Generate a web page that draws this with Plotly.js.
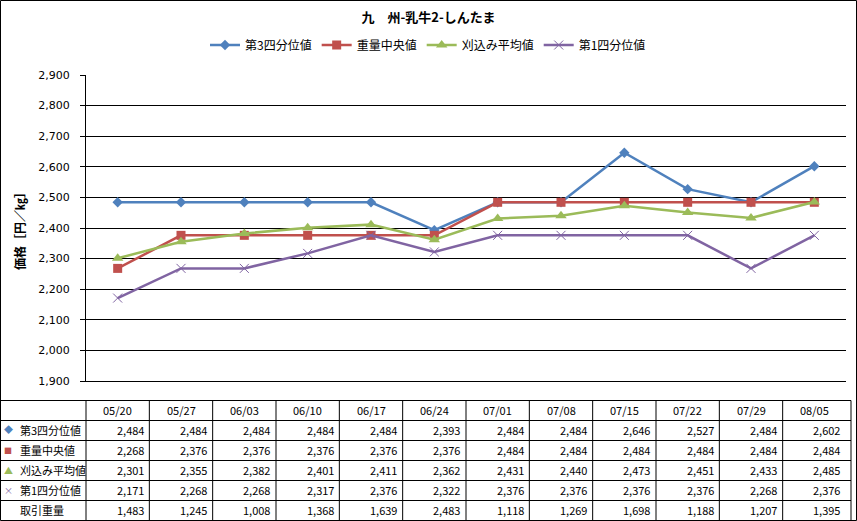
<!DOCTYPE html>
<html><head><meta charset="utf-8">
<script src="https://cdn.plot.ly/plotly-3.0.1.min.js"></script>
<style>html,body{margin:0;padding:0;background:#fff}#chart{width:857px;height:521px}</style>
</head><body><div id="chart"></div>
<script>
// ---- data ----
const categories = ['05/20','05/27','06/03','06/10','06/17','06/24','07/01','07/08','07/15','07/22','07/29','08/05'];
const seriesNames = ['第3四分位値','重量中央値','刈込み平均値','第1四分位値'];
const q3      = [2484,2484,2484,2484,2484,2393,2484,2484,2646,2527,2484,2602];
const median  = [2268,2376,2376,2376,2376,2376,2484,2484,2484,2484,2484,2484];
const trimmed = [2301,2355,2382,2401,2411,2362,2431,2440,2473,2451,2433,2485];
const q1      = [2171,2268,2268,2317,2376,2322,2376,2376,2376,2376,2268,2376];
const volumeLabel = '取引重量';
const volume  = [1483,1245,1008,1368,1639,2483,1118,1269,1698,1188,1207,1395];
const yTickValues = [1900,2000,2100,2200,2300,2400,2500,2600,2700,2800,2900];
const chartTitle = '九　州-乳牛2-しんたま';
const yTitle = '価格［円／㎏］';

// ---- layout geometry ----
const W = 857, H = 521, L = 86, R = 11, T = 75, B = 140;
const PW = W - L - R, PH = H - T - B;
const px2x = p => (p - L) / PW;
const py2y = p => (H - B - p) / PH;

const colors = ['#4F81BD', '#C0504D', '#9BBB59', '#8064A2'];
const symbols = ['diamond', 'square', 'triangle-up', 'x-thin-open'];
const sizes = [8, 9, 10, 9];
const seriesData = [q3, median, trimmed, q1];
const xs = categories.map((c, i) => i);

const traces = seriesData.map((vals, s) => ({
  type: 'scatter', mode: 'lines+markers', name: seriesNames[s],
  x: xs, y: vals,
  line: {color: colors[s], width: 2.5},
  marker: {symbol: symbols[s], size: sizes[s], color: colors[s],
           line: {color: colors[s], width: s === 3 ? 1 : 0}},
  cliponaxis: false
}));

const JP = '"Noto Sans CJK JP", "Noto Sans", sans-serif';
const shapes = [];
const annotations = [];
const n = categories.length;

// outer frame
shapes.push({type: 'rect', xref: 'paper', yref: 'paper',
  x0: px2x(0.5), x1: px2x(856.5), y0: py2y(0.5), y1: py2y(520.5),
  line: {color: '#000', width: 1}, fillcolor: 'rgba(0,0,0,0)'});

// table grid
const rowTop = 400.5, rowH = 20, nRows = 6;
const tableRight = 851;
for (let r = 0; r < nRows; r++) {
  const yy = py2y(rowTop + r * rowH);
  shapes.push({type: 'line', xref: 'paper', yref: 'paper', x0: px2x(0.5), x1: px2x(tableRight), y0: yy, y1: yy,
    line: {color: '#000', width: 1}});
}
const tableBottom = py2y(520.5);
for (let k = 0; k < n; k++) {
  shapes.push({type: 'line', xref: 'paper', yref: 'paper', x0: k / n, x1: k / n,
    y0: py2y(rowTop), y1: tableBottom, line: {color: '#000', width: 1}});
}
shapes.push({type: 'line', xref: 'paper', yref: 'paper', x0: px2x(tableRight), x1: px2x(tableRight),
  y0: py2y(rowTop), y1: tableBottom, line: {color: '#000', width: 1}});

const tf = {family: JP, size: 11, color: '#000'};
const rowCenter = r => py2y(rowTop + r * rowH + rowH / 2 - 0.5);
// header
categories.forEach((c, i) => annotations.push({xref: 'x', yref: 'paper', x: i, y: rowCenter(0),
  text: c, showarrow: false, xanchor: 'center', yanchor: 'middle', font: tf}));
// rows
const rows = [...seriesData, volume];
const rowLabels = [...seriesNames, volumeLabel];
const rowMarks = ['◆', '■', '▲', '×', ''];
const markSizes = [9, 8, 9, 9, 9];
const fmt = v => v.toLocaleString('en-US');
rows.forEach((vals, r) => {
  const yy = rowCenter(r + 1);
  annotations.push({xref: 'paper', yref: 'paper', x: px2x(18), y: yy, text: rowLabels[r],
    showarrow: false, xanchor: 'left', yanchor: 'middle', font: tf});
  if (rowMarks[r]) annotations.push({xref: 'paper', yref: 'paper', x: px2x(8), y: yy, text: rowMarks[r],
    showarrow: false, xanchor: 'center', yanchor: 'middle',
    font: {family: JP, size: markSizes[r], color: colors[r]}});
  vals.forEach((v, i) => annotations.push({xref: 'x', yref: 'paper', x: i, xshift: 28, y: yy,
    text: fmt(v), showarrow: false, xanchor: 'right', yanchor: 'middle', font: tf}));
});

const layout = {
  width: W, height: H,
  margin: {l: L, r: R, t: T, b: B, pad: 0},
  paper_bgcolor: '#fff', plot_bgcolor: '#fff',
  title: {text: chartTitle, font: {family: JP, size: 13, color: '#000', weight: 'bold'},
          x: 0.5, xref: 'container', xanchor: 'center', y: 1 - 17 / H, yref: 'container', yanchor: 'middle'},
  showlegend: true,
  legend: {orientation: 'h', x: px2x(428), xanchor: 'center', y: py2y(45), yanchor: 'middle',
           font: {family: JP, size: 12, color: '#000'}, itemwidth: 30, tracegroupgap: 0,
           bgcolor: 'rgba(0,0,0,0)'},
  xaxis: {range: [-0.5, n - 0.5], showticklabels: false, ticks: '', showgrid: false,
          zeroline: false, showline: true, linecolor: '#000', linewidth: 1, fixedrange: true},
  yaxis: {range: [1900, 2900], tickvals: yTickValues, tickformat: ',d',
          ticks: 'outside', ticklen: 5, tickcolor: '#000', tickwidth: 1,
          ticklabelstandoff: 8,
          showline: true, linecolor: '#000', linewidth: 1,
          showgrid: true, gridcolor: '#000', gridwidth: 1, zeroline: false,
          tickfont: {family: '"DejaVu Sans", sans-serif', size: 11, color: '#000'},
          title: {text: yTitle, font: {family: JP, size: 12, color: '#000', weight: 'bold'}, standoff: 10},
          fixedrange: true},
  shapes: shapes, annotations: annotations
};

Plotly.newPlot('chart', traces, layout, {displayModeBar: false, staticPlot: true});
</script>
</body></html>
